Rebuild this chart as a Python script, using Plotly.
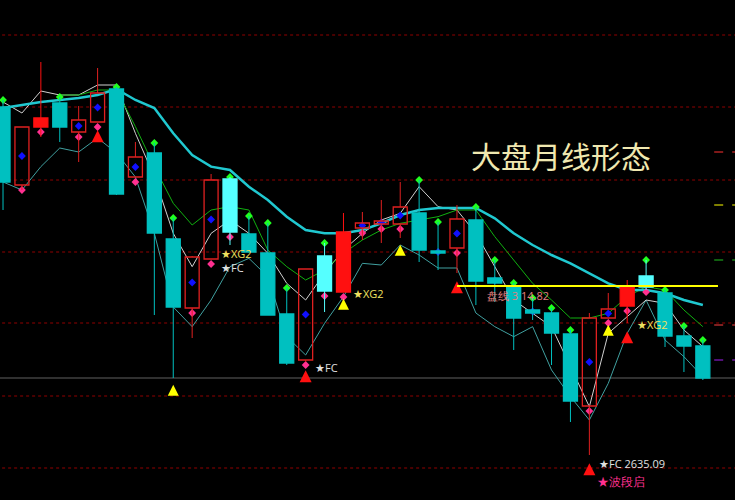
import plotly.graph_objects as go

kind = ["dn","up","upf","dn","up","up","dn","up","dn","dn","up","up","dnl","dn","dn","dn","up","dnl","upf","up",
        "up","up","dn","dn","up","dn","dn","dn","dn","dn","dn","up","up","upf","dnl","dn","dn","dn"]
opens  = [3679,3445,3619,3691,3604,3634,3733,3469,3541,3283,3076,3223,3463,3298,3241,3058,2920,3232,3124,3316,
          3328,3328,3361,3241,3256,3340,3166,3139,3070,3061,2998,2782,3046,3082,3172,3121,2992,2962]
closes = [3454,3619,3646,3619,3640,3721,3418,3529,3301,3079,3229,3460,3304,3244,3055,2911,3193,3127,3304,3331,
          3337,3379,3250,3247,3343,3157,3151,3046,3061,3001,2797,3046,3073,3142,3139,2992,2962,2866]
highs  = [3700,3619,3814,3709,3682,3796,3739,3574,3571,3346,3232,3478,3469,3352,3331,3136,3193,3271,3361,3364,
          3400,3454,3460,3334,3385,3379,3220,3151,3106,3076,3010,3061,3121,3160,3220,3130,3022,2980]
lows   = [3370,3430,3589,3574,3514,3634,3415,3469,3055,2866,2986,3223,3265,3244,3055,2905,2914,3064,3124,3280,
          3271,3286,3214,3190,3181,3085,3094,2950,3040,2905,2734,2635,3046,3031,3130,2959,2884,2860]
ma_thick = [3676,3685,3694,3700,3706,3715,3733,3700,3676,3600,3535,3500,3490,3440,3400,3350,3310,3300,3300,3310,
            3330,3355,3370,3376,3376,3376,3345,3300,3265,3235,3210,3180,3150,3130,3130,3120,3100,3085]
ma_green = [None,None,None,3715,3715,3730,3730,3620,3500,3390,3325,3370,3380,3370,3250,3200,3160,3190,3240,3280,
            3310,3330,3340,3350,3370,3370,3290,3220,3150,3100,3046,3046,3060,3110,3140,3130,3070,3020]
upper = [3694,3661,3727,3715,3715,3745,3745,3600,3470,3300,3200,3300,3340,3300,3240,3150,3100,3180,3250,3300,
         3340,3360,3440,3380,3370,3300,3200,3100,3060,3020,2900,2780,3000,3050,3100,3090,3010,2960]
lower = [3454,3430,3500,3556,3544,3586,3541,3469,3300,3079,3020,3100,3200,3225,3170,2990,2935,3030,3110,3210,
         3205,3265,3235,3196,3196,3061,3020,2990,3020,2890,2810,2740,2850,3000,3100,2980,2930,2870]
xg2_idx = [11, 18, 33]
fc_idx = [11, 16, 31]
up_arrow_red = [5, 16, 24, 31, 33]
up_arrow_yel = [9, 18, 21, 32]
title_text = "大盘月线形态"
pan_label = "盘线 3 14.82"
pan_level = 3142

fig = go.Figure()
for i in range(len(kind)):
    o, c, h, l = opens[i], closes[i], highs[i], lows[i]
    top, bot = max(o, c), min(o, c)
    if kind[i] in ("dn", "dnl"):
        fill = "#00c0c0" if kind[i] == "dn" else "#55ffff"
        line = fill
    elif kind[i] == "upf":
        fill, line = "#ff1010", "#ff1010"
    else:
        fill, line = "rgba(0,0,0,0)", "#e02020"
    fig.add_shape(type="line", x0=i, x1=i, y0=top, y1=h, line=dict(color=line, width=1))
    fig.add_shape(type="line", x0=i, x1=i, y0=l, y1=bot, line=dict(color=line, width=1))
    fig.add_shape(type="rect", x0=i-0.37, x1=i+0.37, y0=bot, y1=max(top, bot+6),
                  fillcolor=fill, line=dict(color=line, width=1.3))

xs = list(range(len(kind)))
fig.add_trace(go.Scatter(x=xs, y=lower, mode="lines", line=dict(color="#40a0a0", width=1)))
fig.add_trace(go.Scatter(x=xs, y=upper, mode="lines", line=dict(color="#d0d0d0", width=1)))
fig.add_trace(go.Scatter(x=xs, y=ma_green, mode="lines", line=dict(color="#10b010", width=1)))
fig.add_trace(go.Scatter(x=xs, y=ma_thick, mode="lines", line=dict(color="#20c8d0", width=2.5)))

mid = [(o + c) / 2 for o, c in zip(opens, closes)]
fig.add_trace(go.Scatter(x=xs, y=mid, mode="markers",
                         marker=dict(symbol="diamond", size=6, color="#1010ff")))
gx = [i for i in xs if kind[i].startswith("dn")]
fig.add_trace(go.Scatter(x=gx, y=[highs[i] for i in gx], mode="markers",
                         marker=dict(symbol="diamond", size=6, color="#20ff20")))
px_ = [i for i in xs if kind[i] in ("up", "upf", "dnl")]
fig.add_trace(go.Scatter(x=px_, y=[min(opens[i], closes[i]) - 15 for i in px_], mode="markers",
                         marker=dict(symbol="diamond", size=6, color="#ff3090")))
fig.add_trace(go.Scatter(x=up_arrow_red, y=[lows[i] - 25 for i in up_arrow_red], mode="markers",
                         marker=dict(symbol="arrow-up", size=12, color="#ff1010")))
fig.add_trace(go.Scatter(x=up_arrow_yel, y=[lows[i] - 20 for i in up_arrow_yel], mode="markers",
                         marker=dict(symbol="arrow-up", size=11, color="#ffff00")))

fig.add_shape(type="line", x0=24, x1=37.8, y0=pan_level, y1=pan_level, line=dict(color="#ffff00", width=2))
fig.add_annotation(x=25.5, y=pan_level, text=pan_label, showarrow=False, yanchor="top", xanchor="left",
                   font=dict(color="#e08080", size=11))
for i in xg2_idx:
    fig.add_annotation(x=i+0.4, y=lows[i] + (18 if i == 11 else -5), text="★XG2", showarrow=False,
                       xanchor="left", font=dict(color="#f0e060", size=11))
for i in fc_idx:
    t = "★FC" if i != 31 else "★FC 2635.09"
    fig.add_annotation(x=i+0.4, y=lows[i] - (24 if i != 16 else 15), text=t, showarrow=False,
                       xanchor="left", font=dict(color="#e0e0e0", size=11))
fig.add_annotation(x=31.3, y=lows[31] - 78, text="★波段启", showarrow=False, xanchor="left",
                   font=dict(color="#ff3090", size=12))
fig.add_annotation(x=29.5, y=3535, text=title_text, showarrow=False,
                   font=dict(color="#f0e8b0", size=30, family="Noto Sans CJK SC"))

for g in [3895, 3679, 3460, 3244, 3031, 2812, 2596]:
    fig.add_shape(type="line", x0=-1, x1=40, y0=g, y1=g, line=dict(color="#900000", width=1, dash="dot"), layer="below")
fig.add_shape(type="line", x0=-1, x1=40, y0=2866, y1=2866, line=dict(color="#606060", width=1), layer="below")
for y, col in [(3544, "#ff3030"), (3385, "#ffff00"), (3220, "#20c020"), (3025, "#ff4040"), (2920, "#a020f0")]:
    fig.add_shape(type="line", x0=37.6, x1=38.8, y0=y, y1=y, line=dict(color=col, width=1, dash="dash"))

fig.update_layout(width=735, height=500, margin=dict(l=0, r=0, t=0, b=0),
                  paper_bgcolor="black", plot_bgcolor="black", showlegend=False)
fig.update_xaxes(range=[-0.16, 38.7], visible=False)
fig.update_yaxes(range=[2500, 4000], visible=False)
fig.write_html("out.html", config={"displayModeBar": False})

with open("out.html", encoding="utf-8") as f:
    html = f.read()
html = html.replace("<head>", "<head><style>html,body{margin:0;padding:0;background:#000;overflow:hidden}</style>", 1)
with open("out.html", "w", encoding="utf-8") as f:
    f.write(html)
